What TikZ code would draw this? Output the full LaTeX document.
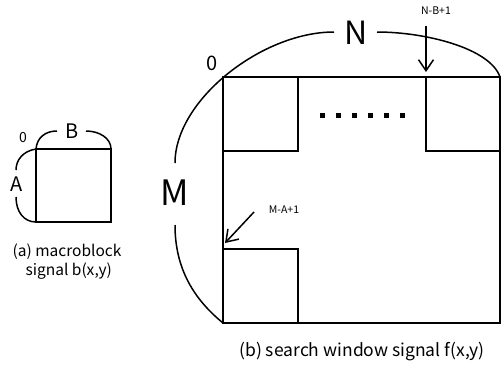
\documentclass[tikz,border=0pt]{standalone}
\usepackage{fontspec}
\setmainfont{Noto Sans CJK JP}
\usetikzlibrary{arrows.meta,positioning}

\tikzset{
  outline/.style={line width=1.6pt, line join=miter},
  bracket/.style={line width=1.5pt},
  pointer/.style={line width=1.5pt, -{Straight Barb[length=11pt,width=15pt]}},
  bigsym/.style={inner sep=0pt, font=\fontsize{32}{32}\selectfont},
  midsym/.style={inner sep=0pt, font=\fontsize{20}{20}\selectfont},
  tinysym/.style={inner sep=0pt, font=\fontsize{10.5}{10.5}\selectfont},
  caption/.style={inner sep=0pt, align=center, font=\fontsize{15.5}{19}\selectfont},
}

\begin{document}
\begin{tikzpicture}[x=1pt,y=-1pt]
  \useasboundingbox (0,0) rectangle (501,365);
  % (a) macroblock
  \draw[outline] (36,149) rectangle (111,222);
  \node[tinysym, font=\fontsize{14}{14}\selectfont] (mbzero) at (23,138) {0};
  \node[midsym] (mbB) at (72,131) {B};
  \node[midsym] (mbA) at (17,184) {A};
  % width bracket B, height bracket A
  \draw[bracket] (36,149) .. controls (37,137) and (46,131) .. (57,131);
  \draw[bracket] (86,131) .. controls (99,131) and (111,138) .. (111,149);
  \draw[bracket] (36,149) .. controls (23,151) and (16,160) .. (16,170);
  \draw[bracket] (16,197) .. controls (16,212) and (24,222) .. (36,222);
  \node[caption, anchor=north] (capA) at (67,244) {(a) macroblock\\ \ signal b(x,y)};

  % (b) search window
  \draw[outline] (223,77) rectangle (500,323);
  \draw[outline] (223,77) rectangle (298,151);
  \draw[outline] (426,77) rectangle (500,151);
  \draw[outline] (223,249) rectangle (298,323);
  % dotted row between the top blocks
  \foreach \i in {0,...,5}
    \fill (320+16*\i,113) rectangle ++(5,5);
  % brackets N and M
  \draw[bracket] (175,163) .. controls (175,100) and (262,32) .. (334,32);
  \draw[bracket] (377,32) .. controls (425,32) and (490,48) .. (500,77);
  \draw[bracket] (175,225) .. controls (175,270) and (195,300) .. (223,323);
  \node[bigsym] (winN) at (356,33) {N};
  \node[bigsym, font=\fontsize{35}{35}\selectfont] (winM) at (175,193) {M};
  \node[midsym] (winzero) at (212,63) {0};
  % offsets of the last candidate block
  \node[tinysym] (lastcol) at (436,11) {N-B+1};
  \node[tinysym] (lastrow) at (284,210) {M-A+1};
  \coordinate (colTail) at (426,26);
  \coordinate (colTip) at (426,72);
  \coordinate (rowTail) at (254,212);
  \coordinate (rowTip) at (225,243);
  \draw[pointer] (colTail) -- (colTip);
  \draw[pointer] (rowTail) -- (rowTip);
  \node[caption, anchor=center, font=\fontsize{17.5}{20}\selectfont] (capB) at (362,352) {(b) search window signal f(x,y)};
\end{tikzpicture}
\end{document}
